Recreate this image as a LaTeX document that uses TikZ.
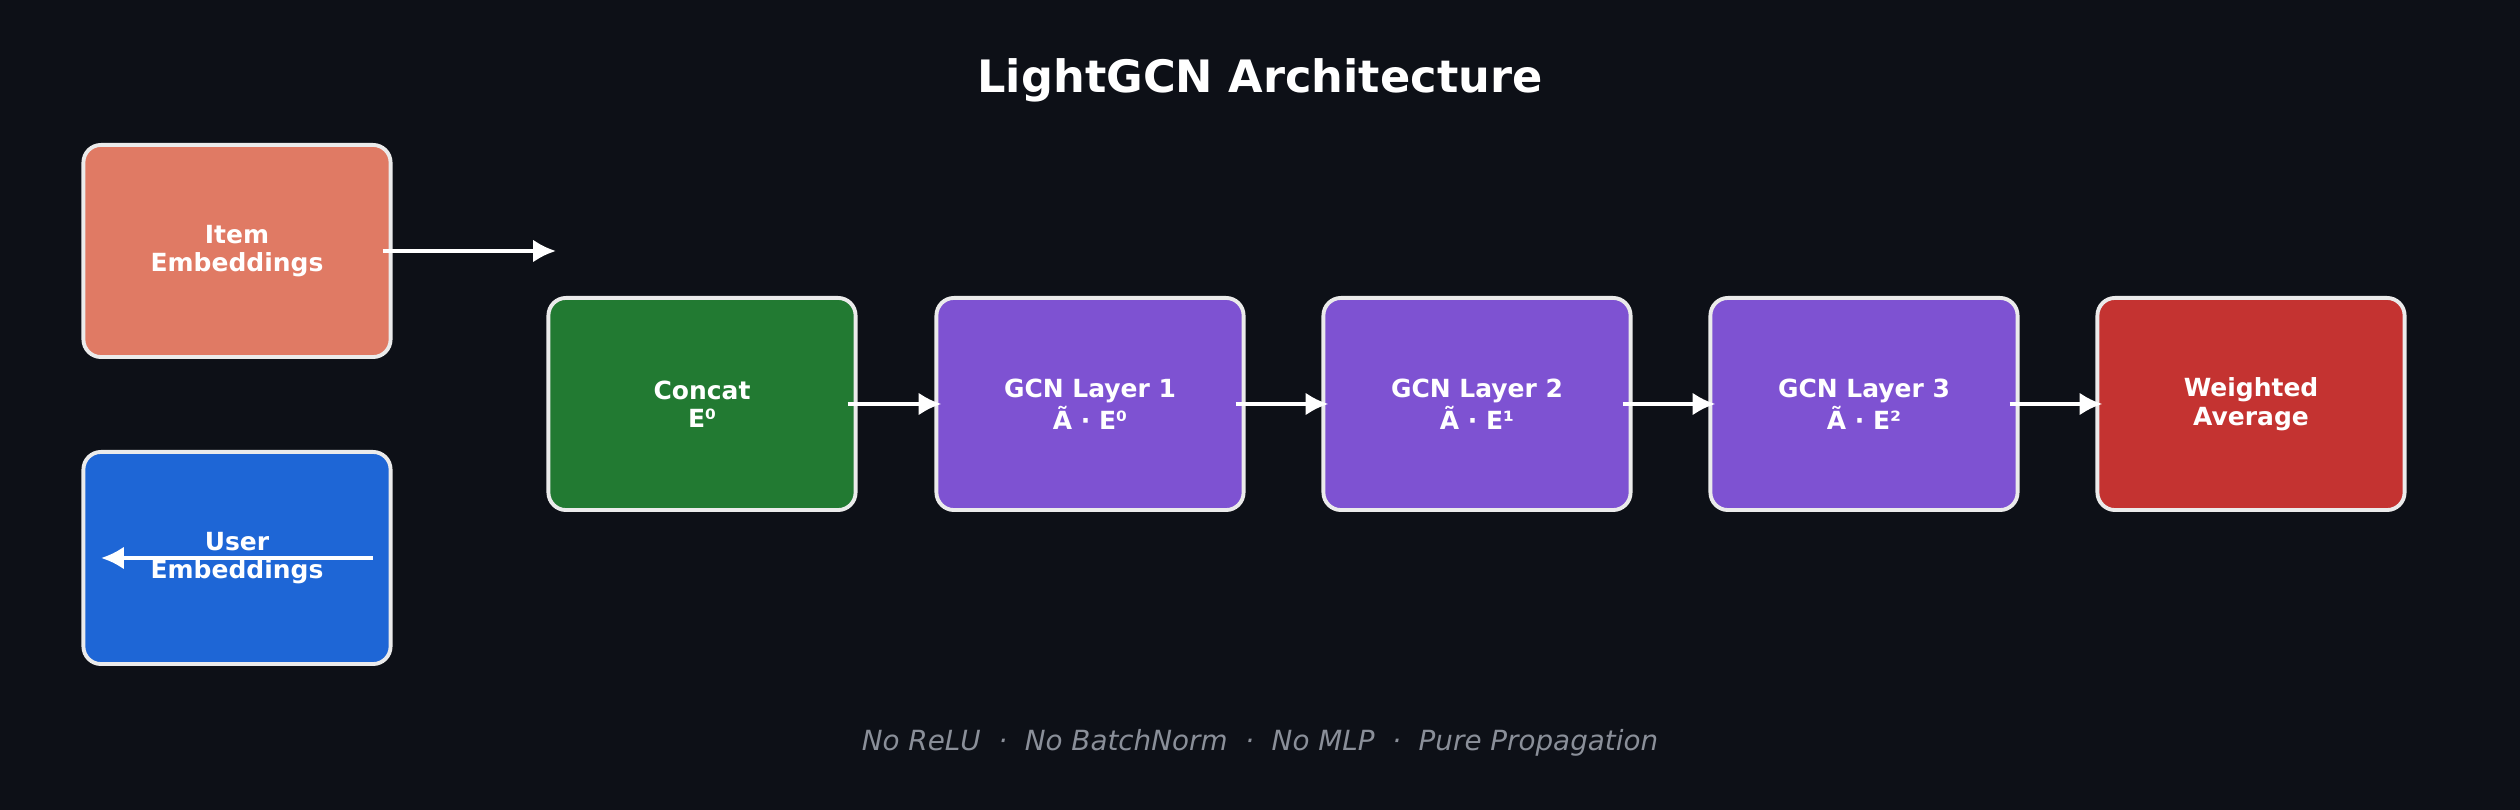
\documentclass[tikz,border=0pt]{standalone}
\usepackage{fontspec}
\setmainfont{DejaVu Sans}
\usetikzlibrary{positioning,arrows.meta}
\definecolor{night bg}{HTML}{0D1017}
\definecolor{item red}{HTML}{E07A64}
\definecolor{user blue}{HTML}{1E66D6}
\definecolor{concat green}{HTML}{227A32}
\definecolor{gcn purple}{HTML}{7E52D2}
\definecolor{avg red}{HTML}{C43331}
\definecolor{foot gray}{HTML}{8A8F99}
\tikzset{
	block/.style={draw=white!92!black, line width=1.1pt, rounded corners=5pt,
		minimum width=3.07cm, minimum height=2.12cm, align=center,
		text=white, font=\fontsize{7.1pt}{8.1pt}\selectfont\bfseries},
	flow/.style={draw=white, line width=1.1pt, -{Latex[length=6.5pt,width=6.5pt]}}
}
\begin{document}
\begin{tikzpicture}[x=0.01cm, y=-0.01cm]
		% background
		\fill[night bg] (0, 0) rectangle (2520, 810);
		\node[text=white, font=\fontsize{12.7pt}{14pt}\selectfont\bfseries] (title) at (1260, 80) {LightGCN Architecture};
		% inputs
		\node[block, fill=item red] (item) at (237, 251) {Item\\Embeddings};
		\node[block, fill=user blue] (user) at (237, 558) {User\\Embeddings};
		% propagation chain
		\node[block, fill=concat green] (concat) at (702, 404) {Concat\\E⁰};
		\node[block, fill=gcn purple] (gcn1) at (1090, 404) {GCN Layer 1\\Ã · E⁰};
		\node[block, fill=gcn purple] (gcn2) at (1477, 404) {GCN Layer 2\\Ã · E¹};
		\node[block, fill=gcn purple] (gcn3) at (1864, 404) {GCN Layer 3\\Ã · E²};
		\node[block, fill=avg red] (avg) at (2251, 404) {Weighted\\Average};
		% arrows
		\coordinate (itemend) at (556, 251);
		\coordinate (userend) at (101, 558);
		\draw[flow] ([xshift=-0.1cm]item.east) -- (itemend);
		\draw[flow] ([xshift=-0.2cm]user.east) -- (userend);
		\draw[flow] ([xshift=-0.1cm]concat.east) -- ([xshift=0.07cm]gcn1.west);
		\draw[flow] ([xshift=-0.1cm]gcn1.east) -- ([xshift=0.07cm]gcn2.west);
		\draw[flow] ([xshift=-0.1cm]gcn2.east) -- ([xshift=0.07cm]gcn3.west);
		\draw[flow] ([xshift=-0.1cm]gcn3.east) -- ([xshift=0.07cm]avg.west);
		% footer
		\node[text=foot gray, font=\fontsize{7.9pt}{9pt}\selectfont\itshape] (foot) at (1260, 743)
			{No ReLU~~·~~No BatchNorm~~·~~No MLP~~·~~Pure Propagation};
	\end{tikzpicture}
\end{document}
